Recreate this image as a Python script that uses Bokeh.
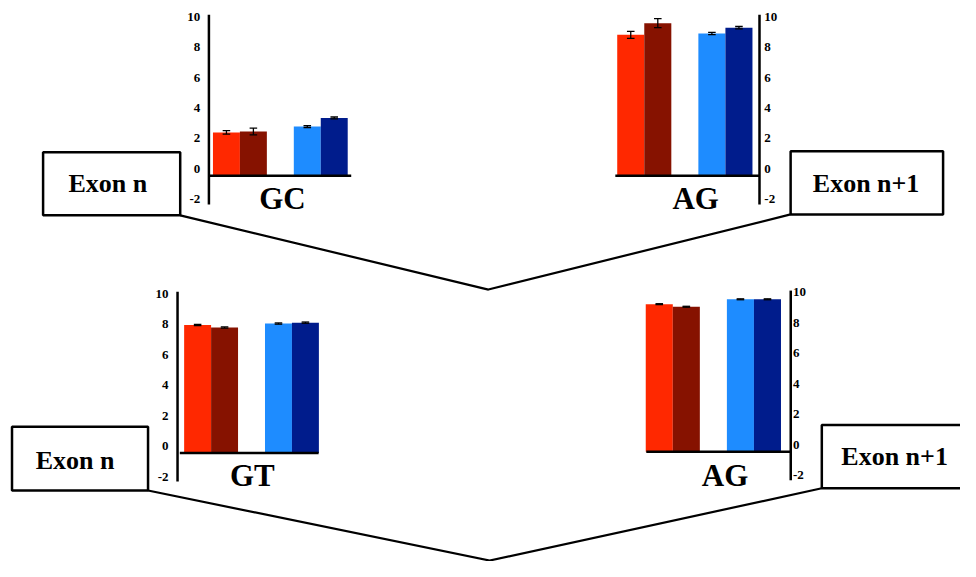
from bokeh.plotting import figure
from bokeh.models import Range1d
from bokeh.core.properties import value
from bokeh.embed import file_html
from bokeh.resources import INLINE

# ---------------- data ----------------
site_labels = ["GC", "AG", "GT", "AG"]
exon_labels = ["Exon n", "Exon n+1"]
bar_colors = ["#FF2800", "#861200", "#1E8CFF", "#001C8C"]

gc_values = [2.85, 2.91, 3.23, 3.80]
gc_errors = [0.12, 0.22, 0.06, 0.06]
ag_top_values = [9.25, 10.02, 9.34, 9.72]
ag_top_errors = [0.23, 0.30, 0.08, 0.08]
gt_values = [8.40, 8.23, 8.49, 8.55]
gt_errors = [0.04, 0.04, 0.04, 0.04]
ag_bottom_values = [9.68, 9.51, 10.00, 10.00]
ag_bottom_errors = [0.03, 0.03, 0.03, 0.03]

tick_values = [-2, 0, 2, 4, 6, 8, 10]
tick_labels = ["-2", "0", "2", "4", "6", "8", "10"]

bar_slots = [0.5, 1.5, 3.5, 4.5]

# ---------------- layout ----------------
FONT = value("Liberation Serif")
SCALE = 15.67          # px per unit
LABEL_SHIFT = 0.45     # tick labels sit slightly above their tick
AX_LO, AX_HI = -1.88, 10.57


def Y(img_y):
    return 577 - img_y


p = figure(width=960, height=561, output_backend="svg", toolbar_location=None,
           x_range=Range1d(0, 976), y_range=Range1d(0, 577),
           x_axis_type=None, y_axis_type=None, min_border=0,
           outline_line_color=None, background_fill_color="white",
           border_fill_color="white")

# panel configs: (values, errors, site, slot x0, slot width, baseline img y,
#                 axis slot x, baseline slot extents, tick label x, align, site label pos)
panels = [
    (gc_values, gc_errors, site_labels[0], 216.0, 27.4, 180.3, -0.15, (-0.12, 5.13), -0.47, "right", (2.58, -1.51)),
    (ag_top_values, ag_top_errors, site_labels[1], 627.0, 27.5, 180.3, 5.26, (-0.07, 5.26), 5.44, "left", (2.90, -1.51)),
    (gt_values, gt_errors, site_labels[2], 186.7, 27.4, 465.3, -0.245, (-0.16, 4.99), -0.58, "right", (2.53, -1.51)),
    (ag_bottom_values, ag_bottom_errors, site_labels[3], 656.0, 27.5, 464.0, 5.36, (0.02, 5.36), 5.44, "left", (2.93, -1.55)),
]

for (vals, errs, site, x0, slot, base, ax_x, bl, lab_x, lab_align, site_pos) in panels:
    sub = p.subplot(
        x_source=Range1d(0, 5), y_source=Range1d(0, 10),
        x_target=Range1d(x0, x0 + 5 * slot),
        y_target=Range1d(Y(base), Y(base - 10 * SCALE)),
    )
    sub.vbar(x=bar_slots, top=vals, bottom=0, width=1.0,
             fill_color=bar_colors, line_color=None)
    lo = [v - e for v, e in zip(vals, errs)]
    hi = [v + e for v, e in zip(vals, errs)]
    sub.segment(x0=bar_slots, y0=lo, x1=bar_slots, y1=hi, line_color="black", line_width=1.3)
    cap_l = [x - 0.14 for x in bar_slots]
    cap_r = [x + 0.14 for x in bar_slots]
    sub.segment(x0=cap_l, y0=lo, x1=cap_r, y1=lo, line_color="black", line_width=1.3)
    sub.segment(x0=cap_l, y0=hi, x1=cap_r, y1=hi, line_color="black", line_width=1.3)
    # axes
    sub.segment(x0=[ax_x], y0=[AX_LO], x1=[ax_x], y1=[AX_HI], line_color="black", line_width=2.5)
    sub.segment(x0=[bl[0]], y0=[0], x1=[bl[1]], y1=[0], line_color="black", line_width=2.5)
    sub.text(x=[lab_x] * len(tick_values), y=[t + LABEL_SHIFT for t in tick_values],
             text=tick_labels, text_align=lab_align, text_baseline="middle",
             text_font=FONT, text_font_style="bold", text_font_size="13px",
             text_color="black")
    sub.text(x=[site_pos[0]], y=[site_pos[1]], text=[site], text_align="center",
             text_baseline="middle", text_font=FONT, text_font_style="bold",
             text_font_size="31px", text_color="black")

# connector lines
p.line(x=[182.7, 496.0, 803.3], y=[Y(221.0), Y(297.3), Y(220.0)], line_color="black", line_width=2.2)
p.line(x=[150.0, 497.3, 835.0], y=[Y(504.0), Y(576.0), Y(501.7)], line_color="black", line_width=2.2)

# exon boxes
box_left = [43.3, 803.3, 11.7, 835.0]
box_right = [182.7, 958.3, 150.0, 985.0]
box_top = [Y(156.0), Y(155.0), Y(438.3), Y(436.7)]
box_bottom = [Y(221.0), Y(220.0), Y(504.0), Y(501.7)]
p.quad(left=box_left, right=box_right, top=box_top, bottom=box_bottom,
       fill_color="white", line_color="black", line_width=2.5)

box_text = [exon_labels[0], exon_labels[1], exon_labels[0], exon_labels[1]]
p.text(x=[109.2, 880.0, 75.8, 909.0], y=[Y(188.3), Y(188.3), Y(472.7), Y(469.3)],
       text=box_text, text_align="center", text_baseline="middle",
       text_font=FONT, text_font_style="bold", text_font_size="26px", text_color="black")

open("out.html", "w").write(file_html(p, INLINE))
